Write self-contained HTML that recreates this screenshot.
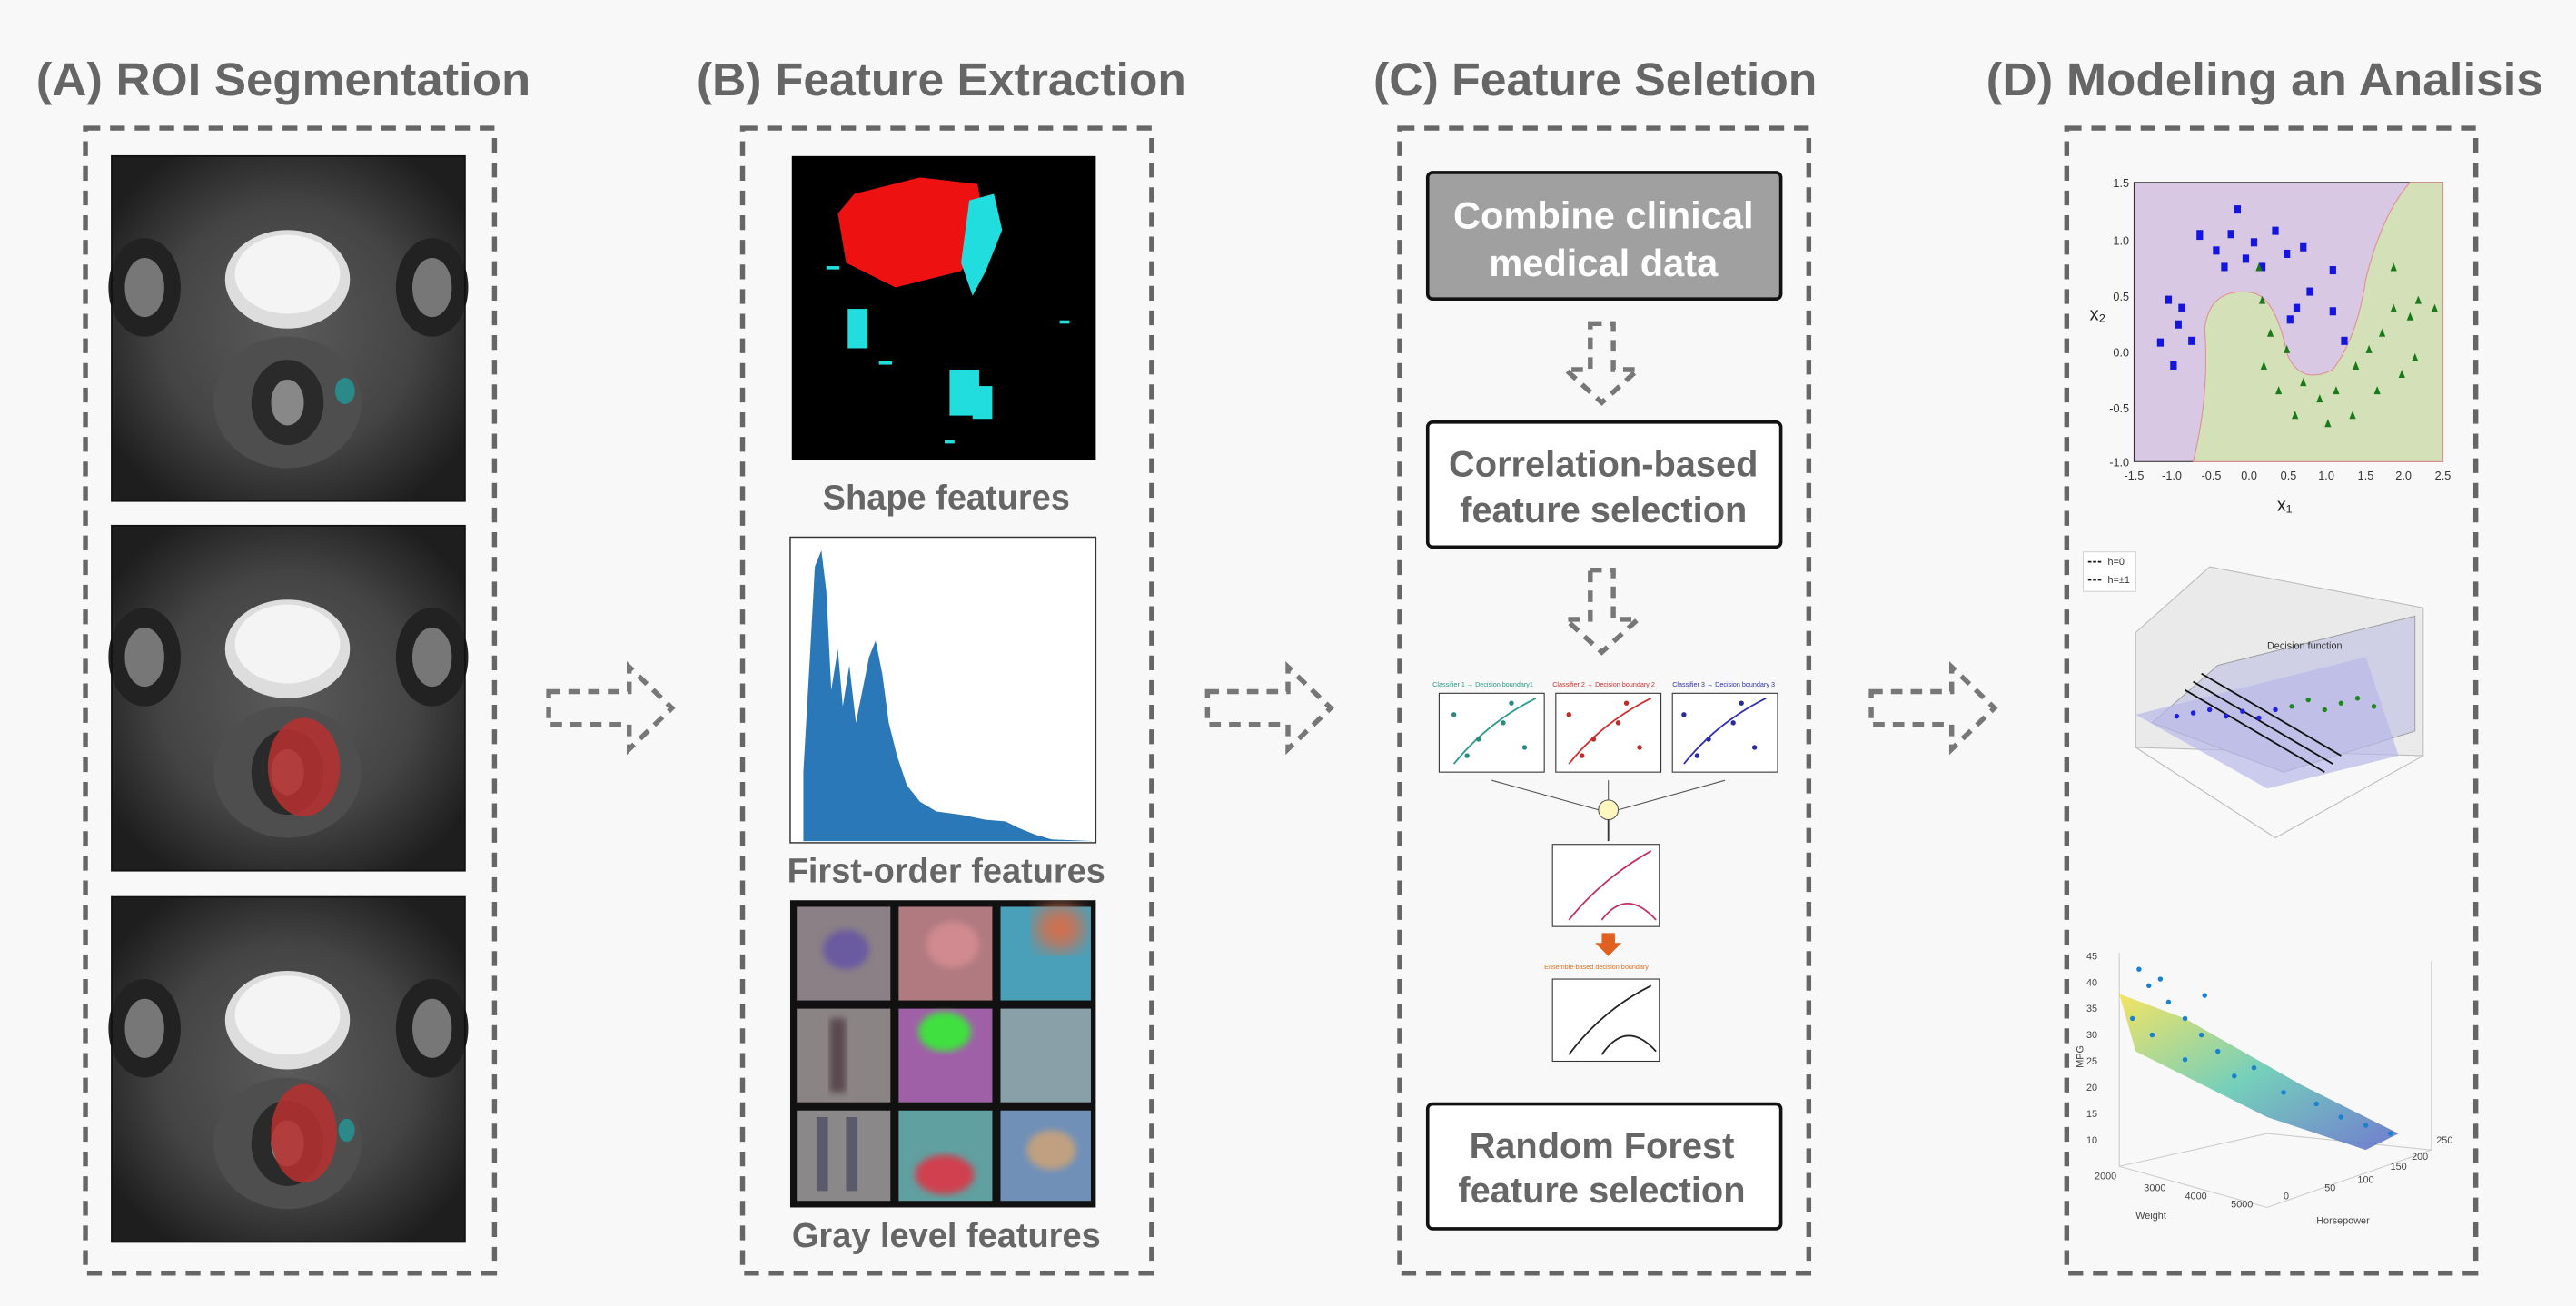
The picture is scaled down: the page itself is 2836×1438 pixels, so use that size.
<!DOCTYPE html>
<html><head><meta charset="utf-8"><style>
html,body{margin:0;padding:0;background:#f8f8f8;}
svg{display:block}
text{font-family:"Liberation Sans",sans-serif;}
</style></head><body>
<svg width="2836" height="1438" viewBox="0 0 1568 795" preserveAspectRatio="none" xmlns="http://www.w3.org/2000/svg">
<defs>
<radialGradient id="mri" cx="50%" cy="50%" r="60%"><stop offset="0" stop-color="#5a5a5a"/><stop offset="0.6" stop-color="#444"/><stop offset="1" stop-color="#1e1e1e"/></radialGradient>
<filter id="bl"><feGaussianBlur stdDeviation="6"/></filter>
<filter id="bl2"><feGaussianBlur stdDeviation="2"/></filter>
<linearGradient id="reg" x1="0" y1="0" x2="1" y2="1"><stop offset="0" stop-color="#f3e04a"/><stop offset="0.5" stop-color="#5ec8b0"/><stop offset="1" stop-color="#5a66c8"/></linearGradient>
<g id="mriimg">
<rect width="215" height="210" fill="url(#mri)"/>
<ellipse cx="20" cy="80" rx="22" ry="30" fill="#222"/><ellipse cx="20" cy="80" rx="12" ry="18" fill="#777"/>
<ellipse cx="195" cy="80" rx="22" ry="30" fill="#222"/><ellipse cx="195" cy="80" rx="12" ry="18" fill="#777"/>
<ellipse cx="107" cy="75" rx="38" ry="30" fill="#ddd"/><ellipse cx="107" cy="72" rx="32" ry="24" fill="#f4f4f4"/>
<ellipse cx="107" cy="150" rx="45" ry="40" fill="#4e4e4e"/>
<ellipse cx="107" cy="150" rx="22" ry="26" fill="#2a2a2a"/><ellipse cx="107" cy="150" rx="10" ry="14" fill="#888"/>
<rect x="0" y="0" width="215" height="210" fill="none" stroke="#111" stroke-width="1"/>
</g>
</defs>
<rect width="1568" height="795" fill="#f8f8f8"/>
<g font-weight="bold" font-size="28" fill="#666">
<text x="22" y="58" textLength="301" lengthAdjust="spacingAndGlyphs">(A) ROI Segmentation</text>
<text x="424" y="58" textLength="298" lengthAdjust="spacingAndGlyphs">(B) Feature Extraction</text>
<text x="836" y="58" textLength="270" lengthAdjust="spacingAndGlyphs">(C) Feature Seletion</text>
<text x="1209" y="58" textLength="339" lengthAdjust="spacingAndGlyphs">(D) Modeling an Analisis</text>
</g>
<g fill="none" stroke="#666" stroke-width="3" stroke-dasharray="9,6">
<rect x="52" y="78" width="249" height="697"/>
<rect x="452" y="78" width="249" height="697"/>
<rect x="852" y="78" width="249" height="697"/>
<rect x="1258" y="78" width="249" height="697"/>
</g>
<g fill="none" stroke="#777" stroke-width="3" stroke-dasharray="7,5">
<path d="M334,421 H383 V406 L409,431 L383,456 V441 H334 Z"/>
<path d="M735,421 H784 V406 L810,431 L784,456 V441 H735 Z"/>
<path d="M1139,421 H1188 V406 L1214,431 L1188,456 V441 H1139 Z"/>
<path d="M968,197 H982 V225 H997 L975,245 L953,225 H968 Z"/>
<path d="M968,347 H982 V377 H997 L975,397 L953,377 H968 Z"/>
</g>
<use href="#mriimg" x="68" y="95"/>
<use href="#mriimg" x="68" y="320"/>
<use href="#mriimg" x="68" y="546"/>
<ellipse cx="210" cy="238" rx="6" ry="8" fill="#2a8a8a"/>
<ellipse cx="185" cy="467" rx="22" ry="30" fill="#b83030" opacity="0.85"/>
<ellipse cx="185" cy="690" rx="20" ry="30" fill="#b83030" opacity="0.85"/>
<ellipse cx="211" cy="688" rx="5" ry="7" fill="#2a8a8a"/>
<rect x="482" y="95" width="185" height="185" fill="#000"/>
<path d="M520,118 L560,108 L595,112 L600,140 L585,165 L545,175 L515,160 L510,130 Z" fill="#e11"/>
<path d="M590,122 L605,118 L610,140 L600,165 L592,180 L585,160 Z" fill="#2dd"/>
<rect x="516" y="188" width="12" height="24" fill="#2dd"/>
<rect x="578" y="225" width="18" height="28" fill="#2dd"/>
<rect x="592" y="235" width="12" height="20" fill="#2dd"/>
<rect x="503" y="162" width="8" height="2" fill="#2dd"/><rect x="535" y="220" width="8" height="2" fill="#2dd"/><rect x="645" y="195" width="6" height="2" fill="#2dd"/><rect x="575" y="268" width="6" height="2" fill="#2dd"/>
<text x="576" y="310" text-anchor="middle" font-weight="bold" font-size="21" fill="#666">Shape features</text>
<rect x="481" y="327" width="186" height="186" fill="#fff" stroke="#333" stroke-width="0.8"/>
<path d="M489,512 L489,470 L493,400 L496,345 L500,335 L503,360 L506,420 L510,395 L513,430 L517,405 L521,440 L525,420 L529,400 L533,390 L537,410 L541,440 L546,460 L552,478 L560,488 L570,494 L585,496 L600,499 L612,500 L620,504 L630,508 L640,511 L666,512 Z" fill="#2a78b8"/>
<text x="576" y="537" text-anchor="middle" font-weight="bold" font-size="21" fill="#666">First-order features</text>
<rect x="481" y="548" width="186" height="187" fill="#111"/>
<g>
<rect x="485" y="552" width="57" height="57" fill="#8a8086"/><ellipse cx="515" cy="578" rx="14" ry="12" fill="#6a5aa0" filter="url(#bl2)"/>
<rect x="547" y="552" width="57" height="57" fill="#b07a80"/><ellipse cx="580" cy="575" rx="16" ry="14" fill="#d08a90" filter="url(#bl2)"/>
<rect x="609" y="552" width="55" height="57" fill="#4aa0b8"/><ellipse cx="645" cy="565" rx="15" ry="14" fill="#d07050" filter="url(#bl)"/>
<rect x="485" y="614" width="57" height="57" fill="#8a8484"/><rect x="505" y="620" width="10" height="45" fill="#5a4a50" filter="url(#bl2)"/>
<rect x="547" y="614" width="57" height="57" fill="#a060a8"/><ellipse cx="575" cy="628" rx="16" ry="12" fill="#40e040" filter="url(#bl2)"/>
<rect x="609" y="614" width="55" height="57" fill="#8aa0a8"/>
<rect x="485" y="676" width="57" height="55" fill="#8a8888"/><rect x="497" y="680" width="7" height="45" fill="#5a5a6a"/><rect x="515" y="680" width="7" height="45" fill="#5a5a6a"/>
<rect x="547" y="676" width="57" height="55" fill="#60a0a0"/><ellipse cx="575" cy="715" rx="18" ry="12" fill="#d04050" filter="url(#bl2)"/>
<rect x="609" y="676" width="55" height="55" fill="#7090b8"/><ellipse cx="640" cy="700" rx="15" ry="12" fill="#c0a080" filter="url(#bl2)"/>
</g>
<text x="576" y="759" text-anchor="middle" font-weight="bold" font-size="21" fill="#666">Gray level features</text>
<rect x="869" y="105" width="215" height="77" rx="3" fill="#a0a0a0" stroke="#111" stroke-width="2"/>
<text x="976" y="139" text-anchor="middle" font-weight="bold" font-size="23" fill="#fff">Combine clinical</text>
<text x="976" y="168" text-anchor="middle" font-weight="bold" font-size="23" fill="#fff">medical data</text>
<rect x="869" y="257" width="215" height="76" rx="3" fill="#fff" stroke="#111" stroke-width="2"/>
<text x="976" y="290" text-anchor="middle" font-weight="bold" font-size="22" fill="#666">Correlation-based</text>
<text x="976" y="318" text-anchor="middle" font-weight="bold" font-size="22" fill="#666">feature selection</text>
<rect x="869" y="672" width="215" height="76" rx="3" fill="#fff" stroke="#111" stroke-width="2"/>
<text x="975" y="705" text-anchor="middle" font-weight="bold" font-size="22" fill="#666">Random Forest</text>
<text x="975" y="732" text-anchor="middle" font-weight="bold" font-size="22" fill="#666">feature selection</text>
<g font-size="4">
<text x="872" y="418" fill="#2a9a8a">Classifier 1 → Decision boundary1</text>
<text x="945" y="418" fill="#d03030">Classifier 2 → Decision boundary 2</text>
<text x="1018" y="418" fill="#3030b0">Classifier 3 → Decision boundary 3</text>
<rect x="876" y="422" width="64" height="48" fill="#fff" stroke="#333" stroke-width="0.6"/>
<rect x="947" y="422" width="64" height="48" fill="#fff" stroke="#333" stroke-width="0.6"/>
<rect x="1018" y="422" width="64" height="48" fill="#fff" stroke="#333" stroke-width="0.6"/>
<path d="M885,465 Q905,440 935,425" stroke="#2a9a8a" fill="none"/><path d="M955,465 Q975,440 1005,425" stroke="#d03030" fill="none"/><path d="M1025,465 Q1045,440 1075,425" stroke="#3030b0" fill="none"/>
<g fill="#2a8a80"><circle cx="885" cy="435" r="1.5"/><circle cx="900" cy="450" r="1.5"/><circle cx="915" cy="440" r="1.5"/><circle cx="928" cy="455" r="1.5"/><circle cx="893" cy="460" r="1.5"/><circle cx="920" cy="428" r="1.5"/></g>
<g fill="#c02a2a"><circle cx="955" cy="435" r="1.5"/><circle cx="970" cy="450" r="1.5"/><circle cx="985" cy="440" r="1.5"/><circle cx="998" cy="455" r="1.5"/><circle cx="963" cy="460" r="1.5"/><circle cx="990" cy="428" r="1.5"/></g>
<g fill="#2a2aa0"><circle cx="1025" cy="435" r="1.5"/><circle cx="1040" cy="450" r="1.5"/><circle cx="1055" cy="440" r="1.5"/><circle cx="1068" cy="455" r="1.5"/><circle cx="1033" cy="460" r="1.5"/><circle cx="1060" cy="428" r="1.5"/></g>
<path d="M908,475 L973,493 M979,475 L979,487 M1050,475 L985,493" stroke="#555" stroke-width="0.6"/>
<circle cx="979" cy="493" r="6" fill="#fff6c0" stroke="#555" stroke-width="0.6"/>
<path d="M979,499 V512" stroke="#333"/>
<rect x="945" y="514" width="65" height="50" fill="#fff" stroke="#333" stroke-width="0.6"/>
<path d="M955,560 Q975,535 1005,518 M975,560 Q990,540 1008,560" stroke="#c03060" fill="none"/>
<path d="M975,568 h8 v6 h4 l-8,8 l-8,-8 h4 Z" fill="#e06020"/>
<text x="940" y="590" fill="#e07020">Ensemble-based decision boundary</text>
<rect x="945" y="596" width="65" height="50" fill="#fff" stroke="#333" stroke-width="0.6"/>
<path d="M955,642 Q975,615 1005,600 M975,642 Q990,620 1008,640" stroke="#222" fill="none"/>
</g>
<rect x="1299" y="111" width="188" height="170" fill="#d9c8e4" stroke="#333" stroke-width="0.6"/>
<path d="M1467,111 H1487 V281 H1335 Q1345,240 1342,200 Q1345,175 1370,178 Q1385,180 1392,215 Q1400,235 1420,225 Q1435,205 1440,170 Q1450,130 1467,111 Z" fill="#d3e0b8" stroke="#e09090" stroke-width="0.6"/>
<g fill="#1515e0">
<rect x="1313" y="206" width="4" height="5"/><rect x="1318" y="180" width="4" height="5"/><rect x="1326" y="185" width="4" height="5"/><rect x="1321" y="220" width="4" height="5"/><rect x="1332" y="205" width="4" height="5"/><rect x="1337" y="140" width="4" height="6"/><rect x="1347" y="150" width="4" height="5"/><rect x="1356" y="140" width="4" height="5"/><rect x="1360" y="125" width="4" height="5"/><rect x="1370" y="145" width="4" height="5"/><rect x="1383" y="138" width="4" height="5"/><rect x="1390" y="152" width="4" height="5"/><rect x="1375" y="160" width="4" height="5"/><rect x="1396" y="185" width="4" height="5"/><rect x="1404" y="175" width="4" height="5"/><rect x="1418" y="187" width="4" height="5"/><rect x="1425" y="205" width="4" height="5"/><rect x="1400" y="148" width="4" height="5"/><rect x="1352" y="160" width="4" height="5"/><rect x="1365" y="155" width="4" height="5"/><rect x="1418" y="162" width="4" height="5"/><rect x="1392" y="192" width="4" height="5"/><rect x="1324" y="195" width="4" height="5"/>
</g>
<g fill="#1a7a1a">
<path d="M1375,185 l2,-5 l2,5Z M1380,205 l2,-5 l2,5Z M1376,225 l2,-5 l2,5Z M1390,215 l2,-5 l2,5Z M1400,235 l2,-5 l2,5Z M1410,245 l2,-5 l2,5Z M1420,240 l2,-5 l2,5Z M1432,225 l2,-5 l2,5Z M1440,215 l2,-5 l2,5Z M1448,205 l2,-5 l2,5Z M1455,190 l2,-5 l2,5Z M1465,195 l2,-5 l2,5Z M1470,185 l2,-5 l2,5Z M1480,190 l2,-5 l2,5Z M1460,230 l2,-5 l2,5Z M1445,240 l2,-5 l2,5Z M1430,255 l2,-5 l2,5Z M1415,260 l2,-5 l2,5Z M1395,255 l2,-5 l2,5Z M1385,240 l2,-5 l2,5Z M1468,220 l2,-5 l2,5Z M1455,165 l2,-5 l2,5Z M1373,165 l2,-5 l2,5Z"/>
</g>
<g font-size="7" fill="#333" text-anchor="end">
<text x="1296" y="114">1.5</text><text x="1296" y="149">1.0</text><text x="1296" y="183">0.5</text><text x="1296" y="217">0.0</text><text x="1296" y="251">-0.5</text><text x="1296" y="284">-1.0</text>
</g>
<g font-size="7" fill="#333" text-anchor="middle">
<text x="1299" y="292">-1.5</text><text x="1322" y="292">-1.0</text><text x="1346" y="292">-0.5</text><text x="1369" y="292">0.0</text><text x="1393" y="292">0.5</text><text x="1416" y="292">1.0</text><text x="1440" y="292">1.5</text><text x="1463" y="292">2.0</text><text x="1487" y="292">2.5</text>
</g>
<text x="1386" y="311" font-size="11" fill="#222">x₁</text>
<text x="1272" y="195" font-size="11" fill="#222">x₂</text>
<g stroke="#bbb" stroke-width="0.6" fill="#eee">
<path d="M1300,385 L1345,345 L1475,370 L1475,460 L1300,455 Z" fill="#eaeaea"/>
<path d="M1300,455 L1385,510 L1475,460" fill="none"/>
</g>
<path d="M1310,440 L1350,405 L1470,375 L1470,445 L1390,470 Z" fill="#cfcfe6" stroke="#999" stroke-width="0.5"/>
<path d="M1300,435 L1440,400 L1460,460 L1380,480 Z" fill="#b8b8e8" opacity="0.7"/>
<path d="M1335,415 L1420,465 M1340,410 L1425,460 M1330,420 L1415,470" stroke="#111" stroke-width="1"/>
<g fill="#2020e0"><circle cx="1325" cy="436" r="1.5"/><circle cx="1335" cy="434" r="1.5"/><circle cx="1345" cy="432" r="1.5"/><circle cx="1355" cy="436" r="1.5"/><circle cx="1365" cy="433" r="1.5"/><circle cx="1375" cy="437" r="1.5"/><circle cx="1385" cy="432" r="1.5"/></g>
<g fill="#1a8a1a"><circle cx="1395" cy="430" r="1.5"/><circle cx="1405" cy="426" r="1.5"/><circle cx="1415" cy="432" r="1.5"/><circle cx="1425" cy="428" r="1.5"/><circle cx="1435" cy="425" r="1.5"/><circle cx="1445" cy="430" r="1.5"/></g>
<text x="1380" y="395" font-size="6" fill="#333">Decision function</text>
<rect x="1268" y="336" width="32" height="24" fill="#fff" stroke="#ccc" stroke-width="0.5"/>
<g font-size="6" fill="#333"><text x="1283" y="344">h=0</text><text x="1283" y="355">h=±1</text></g>
<path d="M1271,342 h9 M1271,353 h9" stroke="#111" stroke-dasharray="2,1"/>
<g stroke="#ccc" stroke-width="0.6" fill="none">
<path d="M1290,580 L1290,710 L1380,735 L1480,700 L1480,585"/>
<path d="M1290,710 L1380,690 L1480,700"/>
</g>
<path d="M1290,605 L1330,620 L1400,660 L1460,690 L1440,700 L1380,680 L1300,640 Z" fill="url(#reg)" opacity="0.85"/>
<g fill="#1a80d0">
<circle cx="1302" cy="590" r="1.5"/><circle cx="1308" cy="600" r="1.5"/><circle cx="1315" cy="596" r="1.5"/><circle cx="1320" cy="610" r="1.5"/><circle cx="1298" cy="620" r="1.5"/><circle cx="1330" cy="620" r="1.5"/><circle cx="1340" cy="630" r="1.5"/><circle cx="1310" cy="630" r="1.5"/><circle cx="1350" cy="640" r="1.5"/><circle cx="1360" cy="655" r="1.5"/><circle cx="1372" cy="650" r="1.5"/><circle cx="1390" cy="665" r="1.5"/><circle cx="1410" cy="672" r="1.5"/><circle cx="1425" cy="680" r="1.5"/><circle cx="1440" cy="685" r="1.5"/><circle cx="1455" cy="690" r="1.5"/><circle cx="1342" cy="606" r="1.5"/><circle cx="1330" cy="645" r="1.5"/>
</g>
<g font-size="6" fill="#444">
<text x="1270" y="584">45</text><text x="1270" y="600">40</text><text x="1270" y="616">35</text><text x="1270" y="632">30</text><text x="1270" y="648">25</text><text x="1270" y="664">20</text><text x="1270" y="680">15</text><text x="1270" y="696">10</text>
<text x="1275" y="718">2000</text><text x="1305" y="725">3000</text><text x="1330" y="730">4000</text><text x="1358" y="735">5000</text>
<text x="1390" y="730">0</text><text x="1415" y="725">50</text><text x="1435" y="720">100</text><text x="1455" y="712">150</text><text x="1468" y="706">200</text><text x="1483" y="696">250</text>
<text x="1300" y="742">Weight</text><text x="1410" y="745">Horsepower</text>
<text x="1268" y="650" transform="rotate(-90 1268 650)">MPG</text>
</g>
</svg>
</body></html>
